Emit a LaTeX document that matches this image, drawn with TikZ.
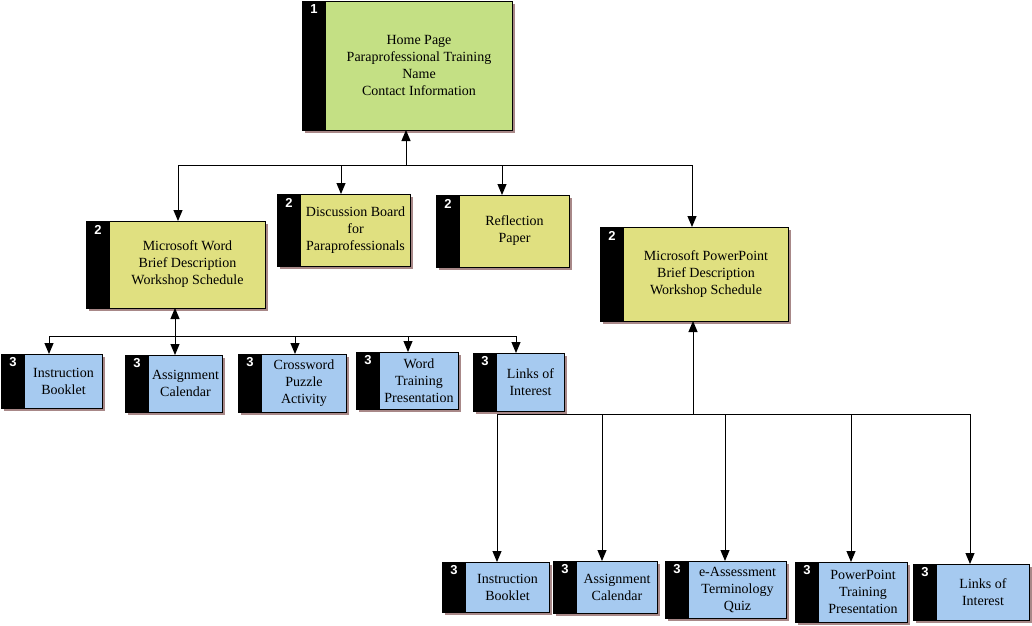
\documentclass[tikz,border=0pt]{standalone}
\usepackage{fontspec}
\setmainfont{Liberation Serif}
\newfontfamily\numfont{Liberation Sans}
\usetikzlibrary{arrows.meta,shadows}
\definecolor{lvlone}{RGB}{196,224,132}
\definecolor{lvltwo}{RGB}{224,224,128}
\definecolor{lvlthree}{RGB}{166,202,240}
\definecolor{shadowc}{RGB}{168,136,136}
\tikzset{
  boxst/.style={draw=black, line width=1pt, inner sep=0pt, outer sep=0pt,
    drop shadow={shadow xshift=3pt, shadow yshift=-3pt, fill=shadowc, opacity=1}},
  txtst/.style={align=center, inner sep=0pt, font=\fontsize{14}{17}\selectfont},
  numst/.style={text=white, inner sep=0pt, font=\numfont\bfseries\fontsize{13}{13}\selectfont},
  conn/.style={line width=1pt},
  arr/.style={line width=1pt, -{Triangle[length=11pt,width=9pt]}},
  darr/.style={line width=1pt, {Triangle[length=11pt,width=9pt]}-{Triangle[length=11pt,width=9pt]}}
}
% name, L, T, R, B, number, colour, text
\newcommand\mkbox[8]{%
  \node[boxst, fill=#7, minimum width={#4-#2}, minimum height={#5-#3}] (#1) at ({(#2+#4)/2},{(#3+#5)/2}) {};
  \fill[black] (#1.north west) rectangle ([xshift=24pt]#1.south west);
  \node[txtst] (#1-t) at ({(#2+24+#4)/2},{(#3+#5)/2}) {#8};
  \node[numst] (#1-n) at ([xshift=12pt,yshift=-8.5pt]#1.north west) {#6};
}
\begin{document}
\begin{tikzpicture}[x=1pt,y={(0pt,-1pt)}]
\useasboundingbox (0,0) rectangle (1032,625);
\mkbox{home}{302}{1}{512}{130}{1}{lvlone}{Home Page\\Paraprofessional Training\\Name\\Contact Information}
\mkbox{word}{86}{221}{265}{308}{2}{lvltwo}{Microsoft Word\\Brief Description\\Workshop Schedule}
\mkbox{disc}{277}{194}{410}{266}{2}{lvltwo}{Discussion Board\\for\\Paraprofessionals}
\mkbox{refl}{436}{195}{569}{267}{2}{lvltwo}{Reflection\\Paper}
\mkbox{pp}{600}{227}{788}{321}{2}{lvltwo}{Microsoft PowerPoint\\Brief Description\\Workshop Schedule}
\mkbox{wa}{1}{354}{102}{408}{3}{lvlthree}{Instruction\\Booklet}
\mkbox{wb}{125}{355}{222}{412}{3}{lvlthree}{Assignment\\Calendar}
\mkbox{wc}{238}{354}{346}{412}{3}{lvlthree}{Crossword\\Puzzle\\Activity}
\mkbox{wd}{356}{352}{458}{409}{3}{lvlthree}{Word\\Training\\Presentation}
\mkbox{we}{473}{353}{564}{411}{3}{lvlthree}{Links of\\Interest}
\mkbox{pa}{442}{562}{549}{612}{3}{lvlthree}{Instruction\\Booklet}
\mkbox{pb}{553}{561}{657}{613}{3}{lvlthree}{Assignment\\Calendar}
\mkbox{pc}{665}{561}{786}{618}{3}{lvlthree}{e-Assessment\\Terminology\\Quiz}
\mkbox{pd}{795}{562}{907}{622}{3}{lvlthree}{PowerPoint\\Training\\Presentation}
\mkbox{pe}{913}{564}{1029}{620}{3}{lvlthree}{Links of\\Interest}
% level 1 -> level 2
\coordinate (j0) at (406,165);
\coordinate (j1) at (178,165);
\coordinate (j2) at (341,165);
\coordinate (j3) at (502,165);
\coordinate (j4) at (692,165);
\draw[arr] (j0) -- (j0 |- home.south);
\draw[conn] (j1) -- (j4);
\draw[arr] (j1) -- (j1 |- word.north);
\draw[arr] (j2) -- (j2 |- disc.north);
\draw[arr] (j3) -- (j3 |- refl.north);
\draw[arr] (j4) -- (j4 |- pp.north);
% word -> level 3
\coordinate (k0) at (175,336);
\coordinate (k1) at (49,336);
\coordinate (k3) at (295,336);
\coordinate (k4) at (408,336);
\coordinate (k5) at (516,336);
\draw[darr] (k0 |- word.south) -- (k0 |- wb.north);
\draw[conn] (k1) -- (k5);
\draw[arr] (k1) -- (k1 |- wa.north);
\draw[arr] (k3) -- (k3 |- wc.north);
\draw[arr] (k4) -- (k4 |- wd.north);
\draw[arr] (k5) -- (k5 |- we.north);
% powerpoint -> level 3
\coordinate (m0) at (693,414);
\coordinate (m1) at (497,414);
\coordinate (m2) at (602,414);
\coordinate (m3) at (725,414);
\coordinate (m4) at (851,414);
\coordinate (m5) at (970,414);
\draw[arr] (m0) -- (m0 |- pp.south);
\draw[conn] (m1) -- (m5);
\draw[arr] (m1) -- (m1 |- pa.north);
\draw[arr] (m2) -- (m2 |- pb.north);
\draw[arr] (m3) -- (m3 |- pc.north);
\draw[arr] (m4) -- (m4 |- pd.north);
\draw[arr] (m5) -- (m5 |- pe.north);
\end{tikzpicture}
\end{document}
